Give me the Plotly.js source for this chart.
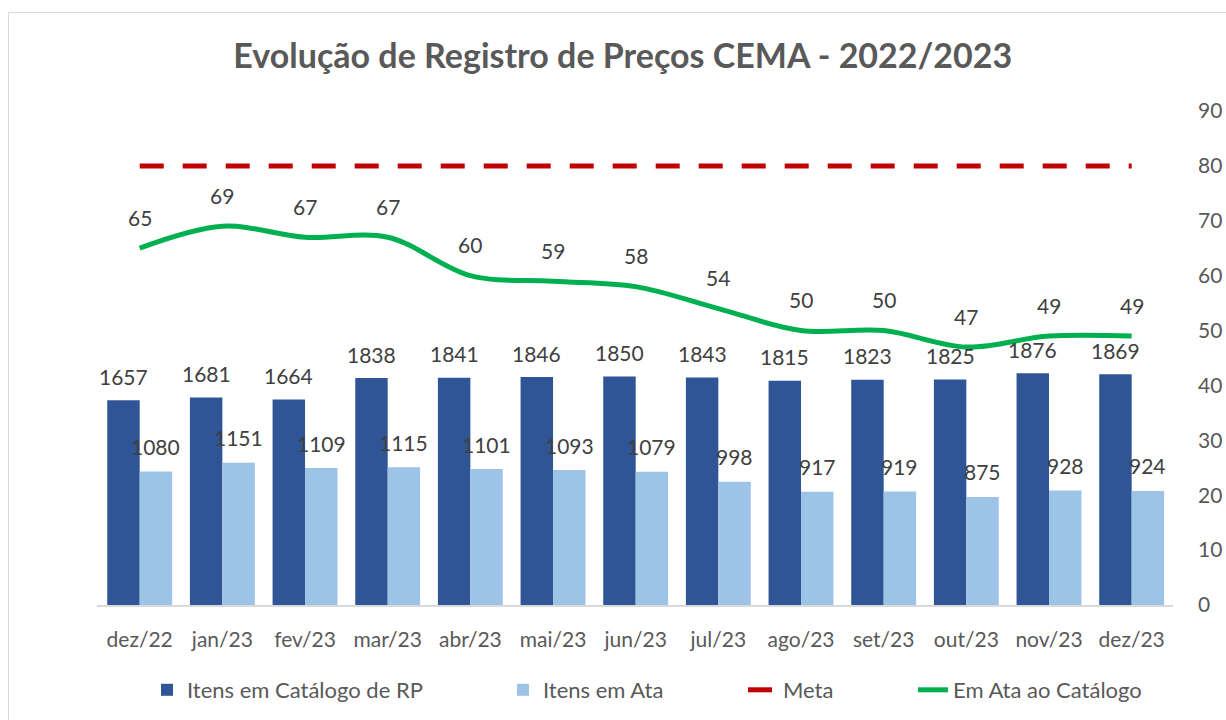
<!DOCTYPE html>
<html>
<head>
<meta charset="utf-8">
<script src="https://cdn.plot.ly/plotly-3.0.1.min.js"></script>
<style>
html,body{margin:0;padding:0;overflow:hidden;background:#fff;}
#frame{position:absolute;left:8px;top:12px;width:1400px;height:900px;border:1.5px solid #D9D9D9;box-sizing:border-box;pointer-events:none;z-index:5;}
#chart{position:absolute;left:0;top:0;width:1226px;height:720px;}
</style>
</head>
<body>
<div id="chart"></div>
<div id="frame"></div>
<script>
const months = ['dez/22','jan/23','fev/23','mar/23','abr/23','mai/23','jun/23','jul/23','ago/23','set/23','out/23','nov/23','dez/23'];
const itensCatalogo = [1657,1681,1664,1838,1841,1846,1850,1843,1815,1823,1825,1876,1869];
const itensAta = [1080,1151,1109,1115,1101,1093,1079,998,917,919,875,928,924];
const meta = [80,80,80,80,80,80,80,80,80,80,80,80,80];
const ataCatalogo = [65,69,67,67,60,59,58,54,50,50,47,49,49];

const FONT = 'Lato, "Open Sans", sans-serif';
const LABEL_COLOR = '#404040';
const AXIS_COLOR = '#595959';

// container pixel -> fraction helpers for legend placement
const cx = p => p / 1226;
const cy = p => (720 - p) / 720;

const traces = [
  {type:'bar', name:'Itens em Catálogo de RP', x:months, y:itensCatalogo, yaxis:'y', legend:'legend',
   marker:{color:'#2F5597'}, hoverinfo:'none'},
  {type:'bar', name:'Itens em Ata', x:months, y:itensAta, yaxis:'y', legend:'legend2',
   marker:{color:'#9DC3E6'}, hoverinfo:'none'},
  {type:'scatter', mode:'lines', name:'Meta', x:months, y:meta, yaxis:'y2', legend:'legend3',
   line:{color:'#C00000', width:5, dash:'24px,19px'}, hoverinfo:'none'},
  {type:'scatter', mode:'lines', name:'Em Ata ao Catálogo', x:months, y:ataCatalogo, yaxis:'y2', legend:'legend4',
   line:{color:'#00B050', width:5, shape:'spline', smoothing:1}, hoverinfo:'none'}
];

const annotations = [];
months.forEach((m,i)=>{
  annotations.push({x:m, y:itensCatalogo[i], xref:'x', yref:'y', text:String(itensCatalogo[i]),
    showarrow:false, xshift:-16.2, yshift:24, yanchor:'middle', font:{family:FONT,size:21,color:LABEL_COLOR}});
  annotations.push({x:m, y:itensAta[i], xref:'x', yref:'y', text:String(itensAta[i]),
    showarrow:false, xshift:16.2, yshift:25, yanchor:'middle', font:{family:FONT,size:21,color:LABEL_COLOR}});
  annotations.push({x:m, y:ataCatalogo[i], xref:'x', yref:'y2', text:String(ataCatalogo[i]),
    showarrow:false, yshift:31, yanchor:'middle', font:{family:FONT,size:21,color:LABEL_COLOR}});
});

const legendBase = {orientation:'h', xanchor:'left', xref:'container', yref:'container',
  y:cy(690), yanchor:'middle',
  font:{family:FONT, size:22, color:AXIS_COLOR}, bgcolor:'rgba(0,0,0,0)', itemwidth:30};

const layout = {
  width:1226, height:720,
  margin:{l:97, r:53, t:111, b:115},
  paper_bgcolor:'rgba(0,0,0,0)', plot_bgcolor:'rgba(0,0,0,0)',
  font:{family:FONT, size:21, color:AXIS_COLOR},
  title:{text:'<b>Evolução de Registro de Preços CEMA - 2022/2023</b>',
    font:{family:FONT, size:34, color:AXIS_COLOR},
    x:0.508, xanchor:'center', xref:'container', y:0.922, yanchor:'middle', yref:'container'},
  barmode:'group', bargap:0.215, bargroupgap:0,
  showlegend:true,
  legend:Object.assign({}, legendBase, {x:cx(187-40)}),
  legend2:Object.assign({}, legendBase, {x:cx(543-40)}),
  legend3:Object.assign({}, legendBase, {x:cx(783-40)}),
  legend4:Object.assign({}, legendBase, {x:cx(953-40)}),
  xaxis:{type:'category', showline:true, linecolor:'#D9D9D9', linewidth:1.5,
    showgrid:false, zeroline:false, ticks:'', tickfont:{family:FONT,size:21,color:AXIS_COLOR},
    ticklabelstandoff:15, automargin:false},
  yaxis:{range:[0,4000], visible:false, showgrid:false, zeroline:false, fixedrange:true, automargin:false},
  yaxis2:{range:[0,90], dtick:10, overlaying:'y', side:'right', showgrid:false, zeroline:false,
    showline:false, ticks:'', tickfont:{family:FONT,size:21,color:AXIS_COLOR}, ticklabelstandoff:24, automargin:false},
  annotations:annotations
};

Plotly.newPlot('chart', traces, layout, {staticPlot:true, displayModeBar:false});
</script>
</body>
</html>
